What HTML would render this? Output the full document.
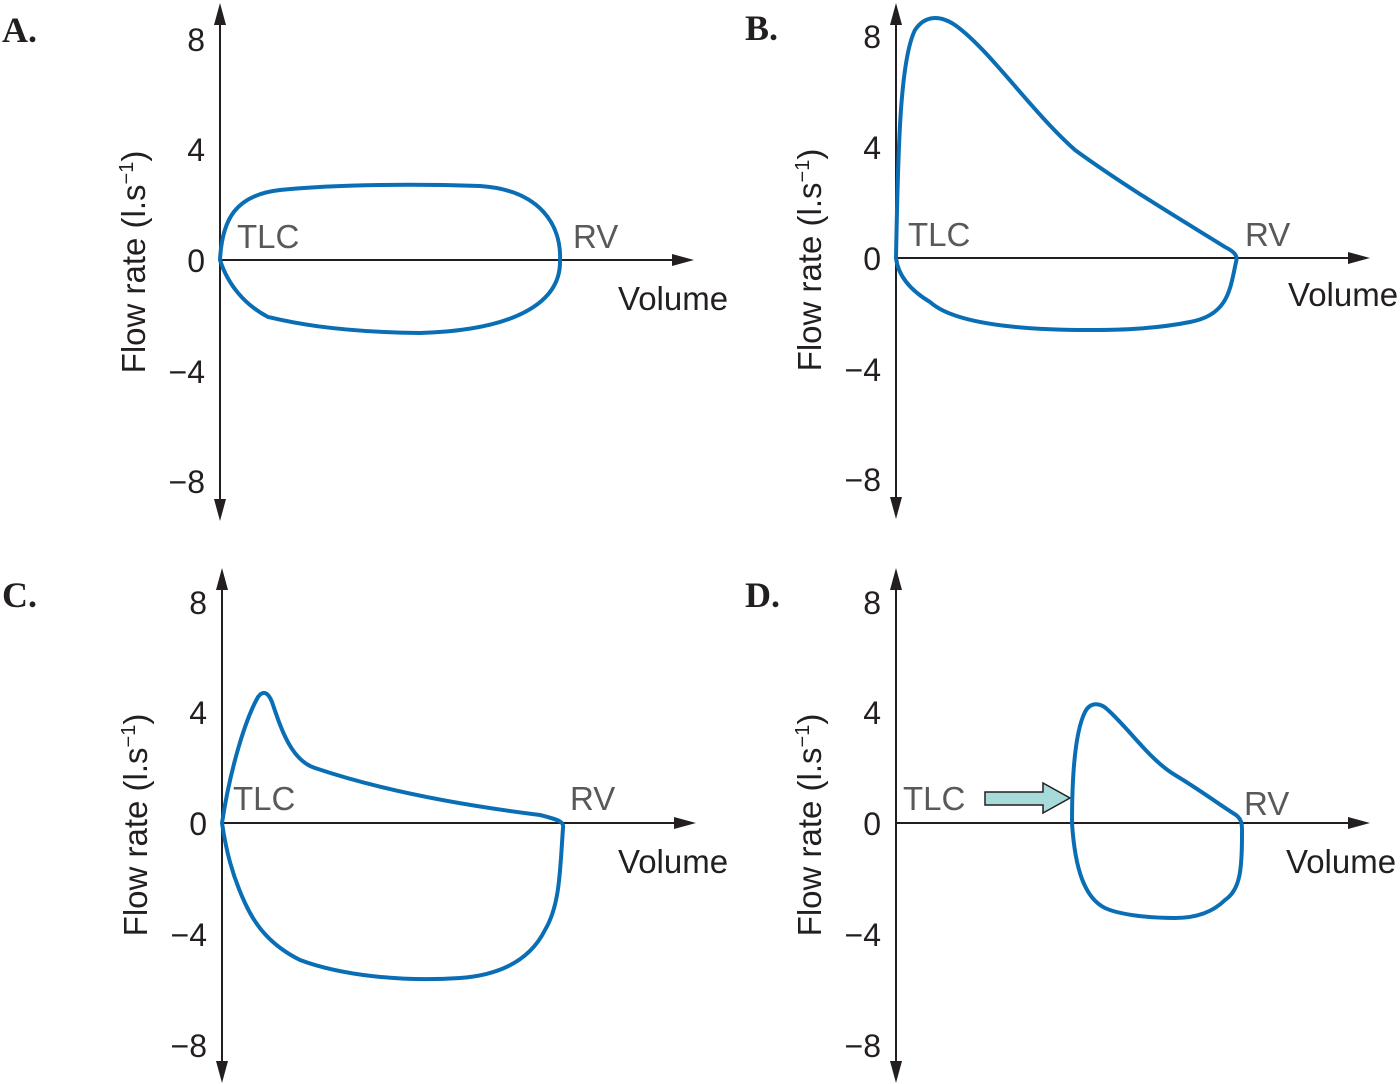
<!DOCTYPE html>
<html><head><meta charset="utf-8"><style>
html,body{margin:0;padding:0;background:#fff;}
svg{display:block;}
text{font-family:"Liberation Sans",sans-serif;}
.t{font-size:32px;fill:#231f20;}
.v{font-size:33px;fill:#231f20;}
.g{font-size:33px;fill:#58595b;}
.p{font-family:"Liberation Serif",serif;font-weight:bold;font-size:36px;fill:#231f20;}
.ax{stroke:#231f20;stroke-width:2;fill:none;}
.c{stroke:#0a6eb4;stroke-width:4;fill:none;}
</style></head><body>
<svg width="1400" height="1084" viewBox="0 0 1400 1084" xmlns="http://www.w3.org/2000/svg">
<g id="A">
<text class="p" x="2" y="42">A.</text>
<line class="ax" x1="220" y1="20" x2="220" y2="505"/>
<polygon points="220,3 214,25 226,25" fill="#231f20"/>
<polygon points="220,521 214,499 226,499" fill="#231f20"/>
<line class="ax" x1="220" y1="260" x2="676" y2="260"/>
<polygon points="694,260 672,254 672,266" fill="#231f20"/>
<g class="t" text-anchor="end"><text x="205" y="51">8</text><text x="205" y="161">4</text><text x="205" y="272">0</text><text x="205" y="383">−4</text><text x="205" y="493">−8</text></g>
<text class="v" transform="translate(145,262) rotate(-90)" text-anchor="middle">Flow rate (l.s<tspan font-size="20" dy="-12">−1</tspan><tspan dy="12">)</tspan></text>
<text class="g" x="237" y="248">TLC</text><text class="g" x="573" y="248">RV</text>
<text class="v" x="618" y="310">Volume</text>
<path class="c" d="M220,260 C222,220 235,195 280,190 C340,184 420,184 480,186 C540,190 562,225 560,262 C560,300 520,330 420,333 C330,332 285,321 268,317 C245,305 228,285 220,260 Z"/>
</g>
<g id="B">
<text class="p" x="745" y="40">B.</text>
<line class="ax" x1="896" y1="20" x2="896" y2="502"/>
<polygon points="896,3 890,25 902,25" fill="#231f20"/>
<polygon points="896,519 890,497 902,497" fill="#231f20"/>
<line class="ax" x1="896" y1="258" x2="1352" y2="258"/>
<polygon points="1370,258 1348,252 1348,264" fill="#231f20"/>
<g class="t" text-anchor="end"><text x="881" y="48">8</text><text x="881" y="159">4</text><text x="881" y="270">0</text><text x="881" y="381">−4</text><text x="881" y="491">−8</text></g>
<text class="v" transform="translate(821,260) rotate(-90)" text-anchor="middle">Flow rate (l.s<tspan font-size="20" dy="-12">−1</tspan><tspan dy="12">)</tspan></text>
<text class="g" x="908" y="246">TLC</text><text class="g" x="1245" y="246">RV</text>
<text class="v" x="1288" y="306">Volume</text>
<path class="c" d="M896,258 C898,150 900,60 915,30 C925,15 940,15 955,25 C990,50 1030,110 1075,150 C1130,190 1190,225 1225,247 C1235,252 1238,256 1236,262 C1230,290 1228,315 1190,322 C1150,330 1110,330 1090,330 C1000,330 950,320 930,302 C910,290 898,275 896,258 Z"/>
</g>
<g id="C">
<text class="p" x="2" y="607">C.</text>
<line class="ax" x1="222" y1="585" x2="222" y2="1066"/>
<polygon points="222,568 216,590 228,590" fill="#231f20"/>
<polygon points="222,1083 216,1061 228,1061" fill="#231f20"/>
<line class="ax" x1="222" y1="823" x2="678" y2="823"/>
<polygon points="696,823 674,817 674,829" fill="#231f20"/>
<g class="t" text-anchor="end"><text x="207" y="614">8</text><text x="207" y="724">4</text><text x="207" y="835">0</text><text x="207" y="946">−4</text><text x="207" y="1057">−8</text></g>
<text class="v" transform="translate(147,825) rotate(-90)" text-anchor="middle">Flow rate (l.s<tspan font-size="20" dy="-12">−1</tspan><tspan dy="12">)</tspan></text>
<text class="g" x="233" y="810">TLC</text><text class="g" x="570" y="810">RV</text>
<text class="v" x="618" y="873">Volume</text>
<path class="c" d="M222,823 C230,770 245,720 258,697 C263,690 268,692 272,702 C280,725 290,760 315,768 C380,790 460,805 540,815 C560,820 564,822 563,828 C560,870 560,905 545,930 C530,960 500,975 460,978 C400,982 340,975 300,960 C270,945 255,925 245,903 C232,875 226,850 222,823 Z"/>
</g>
<g id="D">
<text class="p" x="745" y="607">D.</text>
<line class="ax" x1="896" y1="585" x2="896" y2="1066"/>
<polygon points="896,568 890,590 902,590" fill="#231f20"/>
<polygon points="896,1083 890,1061 902,1061" fill="#231f20"/>
<line class="ax" x1="896" y1="823" x2="1352" y2="823"/>
<polygon points="1370,823 1348,817 1348,829" fill="#231f20"/>
<g class="t" text-anchor="end"><text x="881" y="614">8</text><text x="881" y="724">4</text><text x="881" y="835">0</text><text x="881" y="946">−4</text><text x="881" y="1057">−8</text></g>
<text class="v" transform="translate(821,825) rotate(-90)" text-anchor="middle">Flow rate (l.s<tspan font-size="20" dy="-12">−1</tspan><tspan dy="12">)</tspan></text>
<text class="g" x="903" y="810">TLC</text><text class="g" x="1244" y="815">RV</text>
<text class="v" x="1286" y="873">Volume</text>
<polygon points="985,792 1043,792 1043,783 1070,798 1043,813 1043,805 985,805" fill="#a6dbd9" stroke="#231f20" stroke-width="1.5"/>
<path class="c" d="M1072,823 C1072,770 1076,730 1085,712 C1090,702 1100,702 1108,710 C1130,730 1150,760 1175,775 C1200,790 1220,805 1236,815 C1243,820 1242,828 1242,835 C1242,870 1240,890 1225,900 C1210,915 1190,918 1175,918 C1150,918 1120,915 1105,908 C1085,898 1075,870 1072,823 Z"/>
</g>
</svg>
</body></html>
